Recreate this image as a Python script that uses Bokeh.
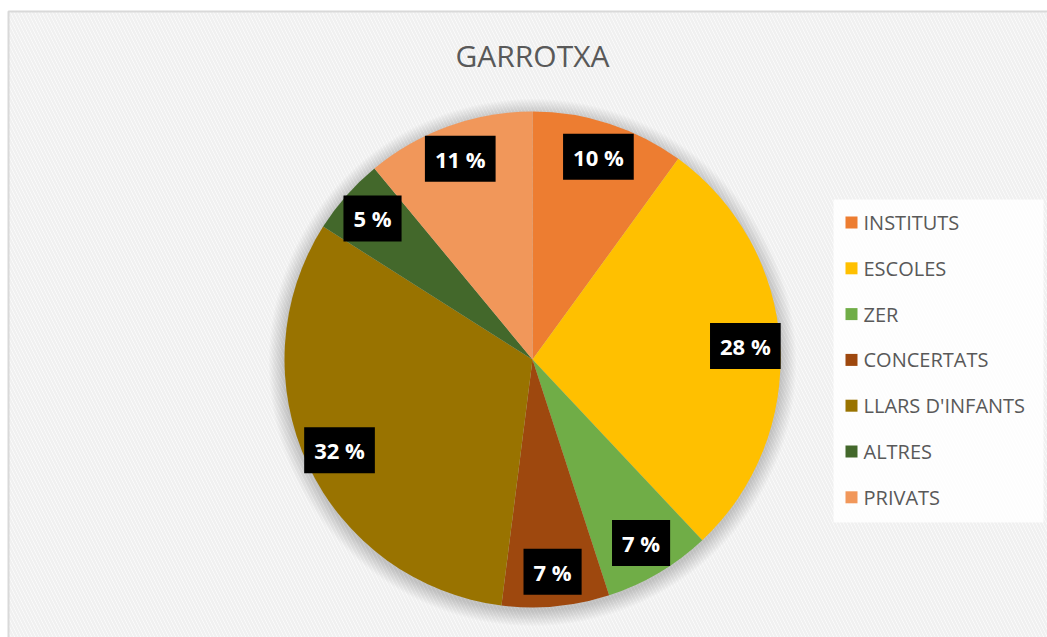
import math
from bokeh.plotting import figure
from bokeh.models import Range1d
from bokeh.core.properties import value
from bokeh.embed import file_html
from bokeh.resources import INLINE

title = "GARROTXA"
categories = ["INSTITUTS", "ESCOLES", "ZER", "CONCERTATS", "LLARS D'INFANTS", "ALTRES", "PRIVATS"]
values = [10, 28, 7, 7, 32, 5, 11]
colors = ["#ED7D31", "#FFC000", "#70AD47", "#9E480E", "#997300", "#43682B", "#F1975A"]

W, H = 1047, 637

def Y(py):
    # screen pixel row -> data y
    return H - py

p = figure(width=W, height=H, output_backend="svg", toolbar_location=None,
           x_range=Range1d(0, W), y_range=Range1d(0, H),
           min_border=0, outline_line_color=None)
p.axis.visible = False
p.grid.visible = False
p.background_fill_color = "white"
p.border_fill_color = "white"

# chart area with light hatched background and grey frame
p.quad(left=8, right=1070, bottom=Y(660), top=Y(11), fill_color="#fdfdfd",
       hatch_pattern="\\", hatch_color="#f0f0f0", hatch_scale=7, hatch_weight=2.5,
       line_color="#d9d9d9", line_width=2)

# title
p.text(x=[532], y=[Y(55)], text=[title], text_align="center", text_baseline="middle",
       text_font=value("Open Sans"), text_font_size="30px", text_color="#595959")

cx, cy, R = 532, Y(359), 248

# soft shadow
for i in range(12, 0, -1):
    p.circle(x=[cx], y=[cy - 3], radius=R + i * 1.3, fill_color="#000000",
             fill_alpha=0.016, line_color=None)

total = float(sum(values))
cum = 0.0
lx, ly, ltxt = [], [], []
for cat, v, c in zip(categories, values, colors):
    f0 = cum / total
    f1 = (cum + v) / total
    start = math.pi / 2 - 2 * math.pi * f1
    end = math.pi / 2 - 2 * math.pi * f0
    p.wedge(x=[cx], y=[cy], radius=R, start_angle=start, end_angle=end,
            fill_color=c, line_color=None)
    mid = (start + end) / 2
    rr = 0.86 * R
    lx.append(cx + rr * math.cos(mid))
    ly.append(cy + rr * math.sin(mid))
    ltxt.append(f"{round(v / total * 100)} %")
    cum += v

p.text(x=lx, y=ly, text=ltxt, text_align="center", text_baseline="middle",
       text_font=value("Open Sans"), text_font_size="22px", text_font_style="bold",
       text_color="white", background_fill_color="black",
       padding=dict(left=10, right=10, top=8, bottom=8))

# legend
p.quad(left=833, right=1043, bottom=Y(522), top=Y(199), fill_color="white",
       fill_alpha=0.85, line_color=None)
row0, step = 222, 45.8
for i, (cat, c) in enumerate(zip(categories, colors)):
    yy = Y(row0 + i * step)
    p.scatter(x=[851], y=[yy], marker="square", size=12, fill_color=c, line_color=None)
    p.text(x=[863], y=[yy], text=[cat], text_align="left", text_baseline="middle",
           text_font=value("Open Sans"), text_font_size="20px", text_color="#595959")

open("out.html", "w").write(file_html(p, INLINE))
